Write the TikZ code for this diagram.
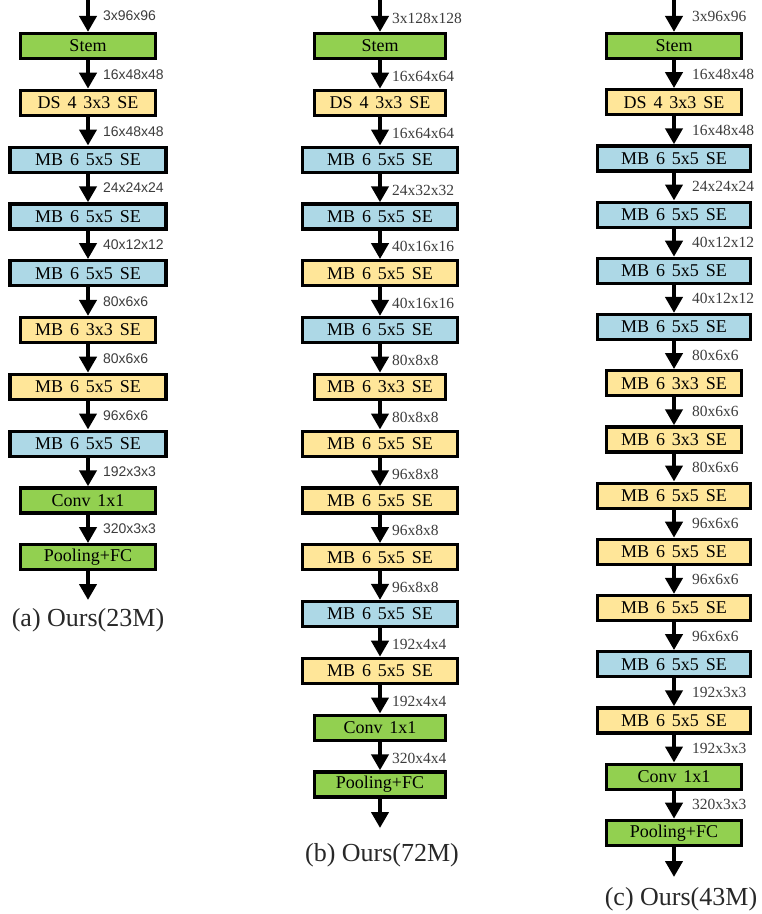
\documentclass[tikz,border=0pt]{standalone}
\usepackage{fontspec}
\setmainfont{Liberation Serif}
\newfontfamily\lsans{Liberation Sans}
\usetikzlibrary{arrows.meta}
\definecolor{cgreen}{RGB}{146,208,80}
\definecolor{cyellow}{RGB}{255,230,153}
\definecolor{cblue}{RGB}{173,216,230}
\definecolor{clabel}{RGB}{60,60,60}
\definecolor{ccap}{RGB}{40,40,40}
\tikzset{
  blk/.style={draw=black, line width=3.2pt, minimum height=25pt, inner sep=0pt,
              font=\fontsize{18}{18}\selectfont,
              execute at begin node={\spaceskip=0.38em plus 0.1em\relax}},
  flow/.style={line width=4pt, -{Triangle[width=17pt,length=16pt]}},
  endpt/.style={inner sep=0pt, outer sep=0pt, minimum size=0pt},
  dimA/.style={anchor=west, text=clabel, inner sep=0pt, font=\lsans\fontsize{14}{14}\selectfont},
  dimB/.style={anchor=west, text=clabel, inner sep=0pt, font=\fontsize{15.5}{15.5}\selectfont},
  captext/.style={text=ccap, inner sep=0pt, font=\fontsize{26}{26}\selectfont}
}
\begin{document}
\begin{tikzpicture}[x=1pt,y=-1pt]
\useasboundingbox (0,0) rectangle (762,914);

% ---------------- column (a) ----------------
\node[endpt] (a0) at (88,0) {};
\foreach \t/\c/\w [count=\i] in {
  Stem/cgreen/135, DS 4 3x3 SE/cyellow/135, MB 6 5x5 SE/cblue/156,
  MB 6 5x5 SE/cblue/156, MB 6 5x5 SE/cblue/156, MB 6 3x3 SE/cyellow/135,
  MB 6 5x5 SE/cyellow/156, MB 6 5x5 SE/cblue/156, Conv 1x1/cgreen/135,
  Pooling+FC/cgreen/135}{
  \pgfmathsetmacro\yy{46+(\i-1)*56.8}
  \node[blk, fill=\c, minimum width=\w pt] (a\i) at (88,\yy) {\t};
}
\foreach \l [count=\i, evaluate=\i as \j using int(\i-1)] in {
  3x96x96, 16x48x48, 16x48x48, 24x24x24, 40x12x12, 80x6x6, 80x6x6,
  96x6x6, 192x3x3, 320x3x3}{
  \draw[flow] (a\j.south) -- (a\i.north) node[midway, dimA, xshift=13pt] (la\i) {\l};
}
\node[endpt] (aend) at (88,600) {};
\draw[flow] (a10.south) -- (aend);
\node[captext] (capa) at (88,620) {(a) Ours(23M)};

% ---------------- column (b) ----------------
\node[endpt] (b0) at (380,0) {};
\foreach \t/\c/\w [count=\i] in {
  Stem/cgreen/131, DS 4 3x3 SE/cyellow/131, MB 6 5x5 SE/cblue/155,
  MB 6 5x5 SE/cblue/155, MB 6 5x5 SE/cyellow/155, MB 6 5x5 SE/cblue/155,
  MB 6 3x3 SE/cyellow/131, MB 6 5x5 SE/cyellow/155, MB 6 5x5 SE/cyellow/155,
  MB 6 5x5 SE/cyellow/155, MB 6 5x5 SE/cblue/155, MB 6 5x5 SE/cyellow/155,
  Conv 1x1/cgreen/131, Pooling+FC/cgreen/131}{
  \pgfmathsetmacro\yy{46+(\i-1)*56.8}
  \node[blk, fill=\c, minimum width=\w pt] (b\i) at (380,\yy) {\t};
}
\foreach \l [count=\i, evaluate=\i as \j using int(\i-1)] in {
  3x128x128, 16x64x64, 16x64x64, 24x32x32, 40x16x16, 40x16x16, 80x8x8,
  80x8x8, 96x8x8, 96x8x8, 96x8x8, 192x4x4, 192x4x4, 320x4x4}{
  \draw[flow] (b\j.south) -- (b\i.north) node[midway, dimB, xshift=10pt, yshift=-2pt] (lb\i) {\l};
}
\node[endpt] (bend) at (380,828) {};
\draw[flow] (b14.south) -- (bend);
\node[captext] (capb) at (382,855) {(b) Ours(72M)};

% ---------------- column (c) ----------------
\node[endpt] (c0) at (674,0) {};
\foreach \t/\c/\w [count=\i] in {
  Stem/cgreen/135, DS 4 3x3 SE/cyellow/135, MB 6 5x5 SE/cblue/153,
  MB 6 5x5 SE/cblue/153, MB 6 5x5 SE/cblue/153, MB 6 5x5 SE/cblue/153,
  MB 6 3x3 SE/cyellow/135, MB 6 3x3 SE/cyellow/135, MB 6 5x5 SE/cyellow/153,
  MB 6 5x5 SE/cyellow/153, MB 6 5x5 SE/cyellow/153, MB 6 5x5 SE/cblue/153,
  MB 6 5x5 SE/cyellow/153, Conv 1x1/cgreen/135, Pooling+FC/cgreen/135}{
  \pgfmathsetmacro\yy{46+(\i-1)*56.2}
  \node[blk, fill=\c, minimum width=\w pt] (c\i) at (674,\yy) {\t};
}
\foreach \l [count=\i, evaluate=\i as \j using int(\i-1)] in {
  3x96x96, 16x48x48, 16x48x48, 24x24x24, 40x12x12, 40x12x12, 80x6x6,
  80x6x6, 80x6x6, 96x6x6, 96x6x6, 96x6x6, 192x3x3, 192x3x3, 320x3x3}{
  \draw[flow] (c\j.south) -- (c\i.north) node[midway, dimB, xshift=16pt] (lc\i) {\l};
}
\node[endpt] (cend) at (674,877) {};
\draw[flow] (c15.south) -- (cend);
\node[captext] (capc) at (681,899) {(c) Ours(43M)};
\end{tikzpicture}
\end{document}
